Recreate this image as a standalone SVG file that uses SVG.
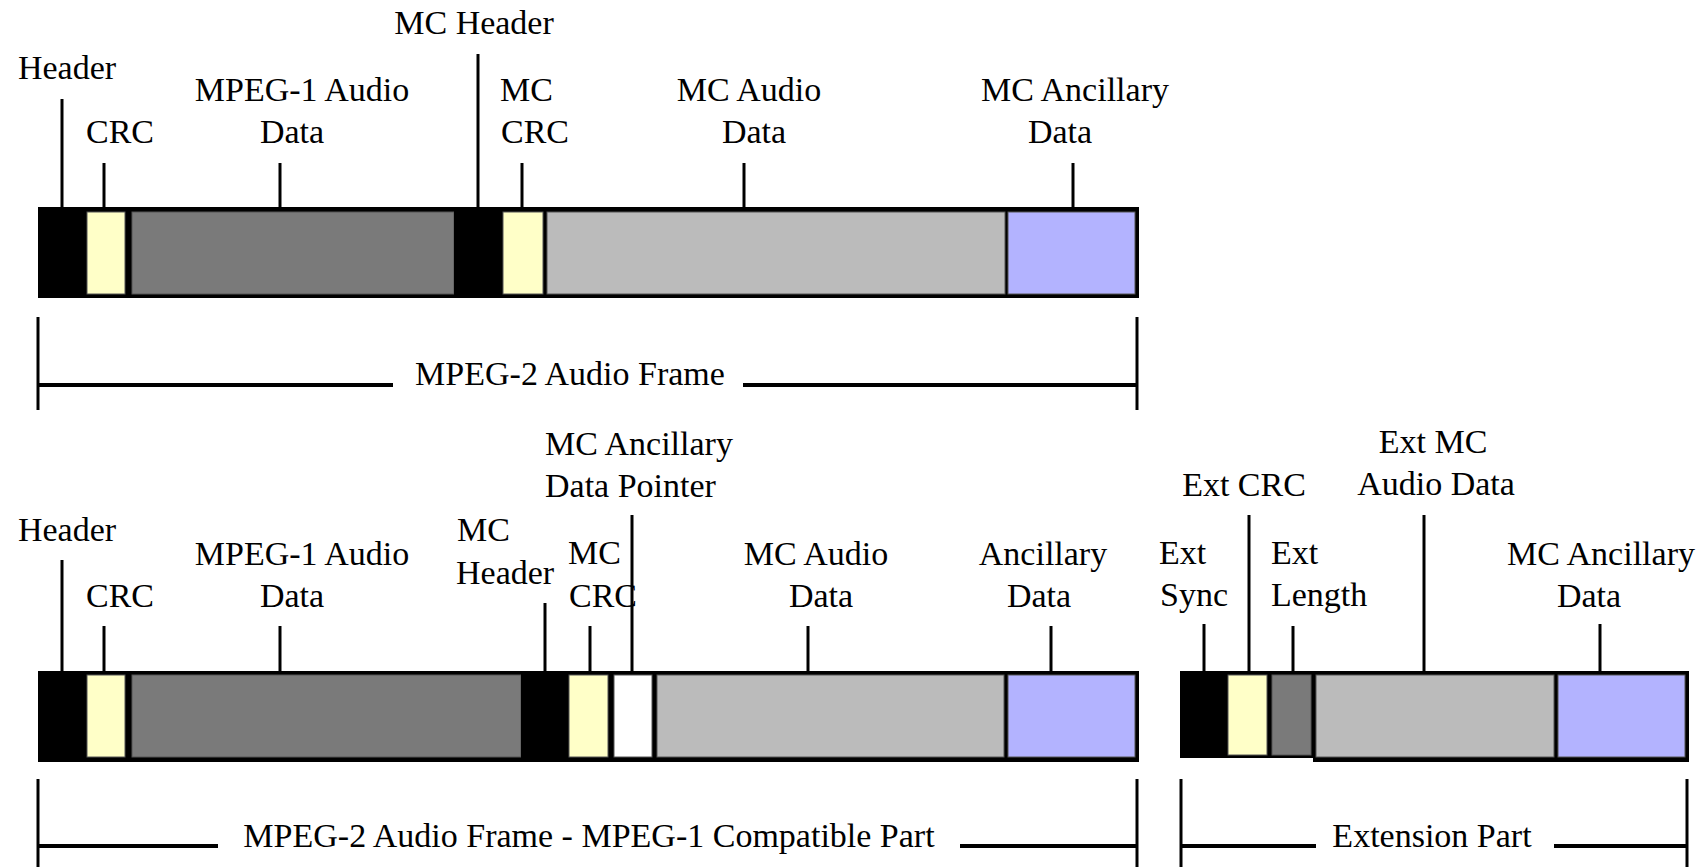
<svg xmlns="http://www.w3.org/2000/svg" width="1702" height="867" viewBox="0 0 1702 867">
  <style>
    text { font-family: "Liberation Serif", "DejaVu Serif", serif; font-size: 34px; fill: #000; }
    .c { text-anchor: middle; }
    .frame { fill: #000; }
    .hdr { fill: #000; }
    .crc { fill: #FFFFC8; stroke: #555; stroke-width: 1; }
    .mp1 { fill: #7A7A7A; stroke: #555; stroke-width: 1; }
    .mca { fill: #BBBBBB; stroke: #555; stroke-width: 1; }
    .anc { fill: #B3B3FF; stroke: #555; stroke-width: 1; }
    .ptr { fill: #FFFFFF; stroke: #555; stroke-width: 1; }
    .tick { stroke: #000; stroke-width: 3; fill: none; }
    .brk { stroke: #000; stroke-width: 3; fill: none; }
    .span { stroke: #000; stroke-width: 4; fill: none; }
  </style>

  <!-- MPEG-2 audio frame (top row) -->
  <g id="frame-top">
    <rect class="frame" x="38" y="207" width="1101" height="91"/>
    <g id="top-header"><rect class="hdr" x="38" y="207" width="49" height="91"/><text x="67" y="79" class="c" font-family="Liberation Serif, serif">Header</text></g>
    <g id="top-crc"><rect class="crc" x="87" y="212" width="38" height="82"/><text x="120" y="143" class="c">CRC</text></g>
    <g id="top-mpeg1-data"><rect class="mp1" x="132" y="212" width="322" height="82"/><text x="302" y="101" class="c">MPEG-1 Audio</text><text x="292" y="143" class="c">Data</text></g>
    <g id="top-mc-header"><rect class="hdr" x="454" y="207" width="49" height="91"/><text x="474" y="34" class="c">MC Header</text></g>
    <g id="top-mc-crc"><rect class="crc" x="503" y="212" width="40" height="82"/><text x="500" y="101">MC</text><text x="501" y="143">CRC</text></g>
    <g id="top-mc-audio"><rect class="mca" x="547" y="212" width="458" height="82"/><text x="749" y="101" class="c">MC Audio</text><text x="754" y="143" class="c">Data</text></g>
    <g id="top-mc-ancillary"><rect class="anc" x="1008" y="212" width="127" height="82"/><text x="1075" y="101" class="c">MC Ancillary</text><text x="1060" y="143" class="c">Data</text></g>
  </g>

  <!-- MPEG-1 compatible part (bottom left) -->
  <g id="frame-compatible">
    <rect class="frame" x="38" y="671" width="1101" height="91"/>
    <g id="bot-header"><rect class="hdr" x="38" y="671" width="49" height="91"/><text x="67" y="541" class="c">Header</text></g>
    <g id="bot-crc"><rect class="crc" x="87" y="675" width="38" height="82"/><text x="120" y="607" class="c">CRC</text></g>
    <g id="bot-mpeg1-data"><rect class="mp1" x="132" y="675" width="389" height="82"/><text x="302" y="565" class="c">MPEG-1 Audio</text><text x="292" y="607" class="c">Data</text></g>
    <g id="bot-mc-header"><rect class="hdr" x="521" y="671" width="48" height="91"/><text x="457" y="541">MC</text><text x="456" y="584">Header</text></g>
    <g id="bot-mc-crc"><rect class="crc" x="569" y="675" width="39" height="82"/><text x="568" y="564">MC</text><text x="569" y="607">CRC</text></g>
    <g id="bot-mc-anc-pointer"><rect class="ptr" x="614" y="675" width="38" height="82"/><text x="545" y="455">MC Ancillary</text><text x="545" y="497">Data Pointer</text></g>
    <g id="bot-mc-audio"><rect class="mca" x="657" y="675" width="347" height="82"/><text x="816" y="565" class="c">MC Audio</text><text x="821" y="607" class="c">Data</text></g>
    <g id="bot-ancillary"><rect class="anc" x="1008" y="675" width="127" height="82"/><text x="1043" y="565" class="c">Ancillary</text><text x="1039" y="607" class="c">Data</text></g>
  </g>

  <!-- Extension part (bottom right) -->
  <g id="frame-extension">
    <rect class="frame" x="1180" y="671" width="509" height="87"/>
    <rect class="frame" x="1313" y="671" width="376" height="91"/>
    <g id="ext-sync"><rect class="hdr" x="1180" y="671" width="48" height="87"/><text x="1159" y="564">Ext</text><text x="1160" y="606">Sync</text></g>
    <g id="ext-crc"><rect class="crc" x="1228" y="675" width="39" height="80"/><text x="1244" y="496" class="c">Ext CRC</text></g>
    <g id="ext-length"><rect class="mp1" x="1272" y="675" width="39" height="80"/><text x="1271" y="564">Ext</text><text x="1271" y="606">Length</text></g>
    <g id="ext-mc-audio"><rect class="mca" x="1316" y="675" width="238" height="82"/><text x="1433" y="453" class="c">Ext MC</text><text x="1436" y="495" class="c">Audio Data</text></g>
    <g id="ext-mc-ancillary"><rect class="anc" x="1558" y="675" width="127" height="82"/><text x="1601" y="565" class="c">MC Ancillary</text><text x="1589" y="607" class="c">Data</text></g>
  </g>

  <!-- leader lines and span brackets -->
  <g id="connectors">
    <line class="tick" x1="62" y1="99" x2="62" y2="207"/>
    <line class="tick" x1="104" y1="163" x2="104" y2="207"/>
    <line class="tick" x1="280" y1="163" x2="280" y2="207"/>
    <line class="tick" x1="478" y1="54" x2="478" y2="207"/>
    <line class="tick" x1="522" y1="163" x2="522" y2="207"/>
    <line class="tick" x1="744" y1="163" x2="744" y2="207"/>
    <line class="tick" x1="1073" y1="163" x2="1073" y2="207"/>

    <line class="tick" x1="62" y1="560" x2="62" y2="671"/>
    <line class="tick" x1="104" y1="626" x2="104" y2="671"/>
    <line class="tick" x1="280" y1="626" x2="280" y2="671"/>
    <line class="tick" x1="545" y1="603" x2="545" y2="671"/>
    <line class="tick" x1="590" y1="626" x2="590" y2="671"/>
    <line class="tick" x1="632" y1="515" x2="632" y2="671"/>
    <line class="tick" x1="808" y1="626" x2="808" y2="671"/>
    <line class="tick" x1="1051" y1="626" x2="1051" y2="671"/>

    <line class="tick" x1="1204" y1="624" x2="1204" y2="671"/>
    <line class="tick" x1="1249" y1="515" x2="1249" y2="671"/>
    <line class="tick" x1="1293" y1="626" x2="1293" y2="671"/>
    <line class="tick" x1="1424" y1="515" x2="1424" y2="671"/>
    <line class="tick" x1="1600" y1="624" x2="1600" y2="671"/>

    <!-- whole frame span -->
    <line class="brk" x1="38" y1="317" x2="38" y2="410"/>
    <line class="brk" x1="1137" y1="317" x2="1137" y2="410"/>
    <line class="span" x1="38" y1="385" x2="393" y2="385"/>
    <line class="span" x1="743" y1="385" x2="1137" y2="385"/>

    <!-- compatible part span -->
    <line class="brk" x1="38" y1="779" x2="38" y2="867"/>
    <line class="brk" x1="1137" y1="779" x2="1137" y2="867"/>
    <line class="span" x1="38" y1="846" x2="218" y2="846"/>
    <line class="span" x1="960" y1="846" x2="1137" y2="846"/>

    <!-- extension part span -->
    <line class="brk" x1="1181" y1="779" x2="1181" y2="867"/>
    <line class="brk" x1="1687" y1="779" x2="1687" y2="867"/>
    <line class="span" x1="1181" y1="846" x2="1316" y2="846"/>
    <line class="span" x1="1554" y1="846" x2="1687" y2="846"/>
  </g>

  <text x="570" y="385" class="c">MPEG-2 Audio Frame</text>
  <text x="589" y="847" class="c">MPEG-2 Audio Frame - MPEG-1 Compatible Part</text>
  <text x="1432" y="847" class="c">Extension Part</text>
</svg>
